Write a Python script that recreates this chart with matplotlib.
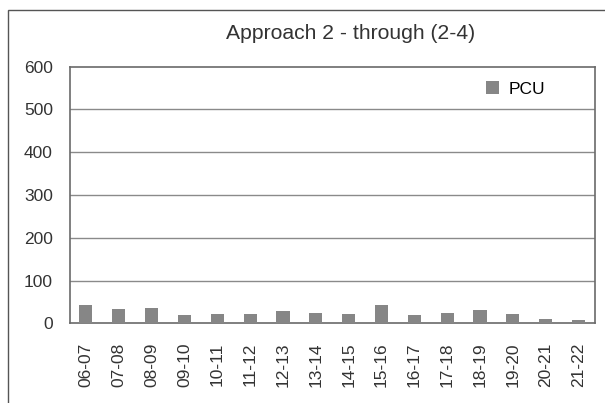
import matplotlib.pyplot as plt
from matplotlib.patches import Rectangle

plt.rcParams['font.family'] = ['Liberation Sans', 'DejaVu Sans']

periods = ['06-07', '07-08', '08-09', '09-10', '10-11', '11-12', '12-13', '13-14',
           '14-15', '15-16', '16-17', '17-18', '18-19', '19-20', '20-21', '21-22']
pcu = [43, 33, 36, 19, 22, 22, 29, 24, 22, 43, 19, 24, 31, 22, 10, 8]
yticks = [0, 100, 200, 300, 400, 500, 600]

W, H = 605, 403
fig = plt.figure(figsize=(W / 100, H / 100), dpi=100)

# outer chart border (runs off right and bottom edges)
fig.patches.append(Rectangle((8 / W, -0.1), 1.2, 1 - 10 / H + 0.1, transform=fig.transFigure,
                             fill=False, edgecolor='#555555', linewidth=1.0))

ax = fig.add_axes([69.5 / W, 1 - 323.3 / H, (595 - 69.5) / W, (323.3 - 66.7) / H])
x = range(len(periods))
ax.bar(x, pcu, width=0.4, color='#868686', label='PCU', zorder=3)

ax.set_ylim(0, 600)
ax.set_xlim(-0.5, len(periods) - 0.5)
ax.set_yticks(yticks)
ax.set_yticklabels([str(t) for t in yticks], fontsize=12.5, color='#333333')
ax.set_xticks(list(x))
ax.set_xticklabels(periods, rotation=90, fontsize=12.5, color='#333333')
ax.tick_params(axis='x', length=0, pad=14)
ax.tick_params(axis='y', length=0, pad=12)

for t in yticks[1:-1]:
    ax.axhline(t, color='#8a8a8a', linewidth=1.0, zorder=1)
for s in ax.spines.values():
    s.set_color('#6a6a6a')
    s.set_linewidth(1.2)

fig.text(351 / W, 1 - 39 / H, 'Approach 2 - through (2-4)', ha='center', va='baseline',
         fontsize=15.2, color='#333333')

ax.legend(loc='center left', bbox_to_anchor=(486 / W, 1 - 89 / H), bbox_transform=fig.transFigure,
          frameon=False, fontsize=12.5, borderpad=0, borderaxespad=0,
          handlelength=0.75, handleheight=0.75, handletextpad=0.55)

fig.savefig('out.png', dpi=100)
